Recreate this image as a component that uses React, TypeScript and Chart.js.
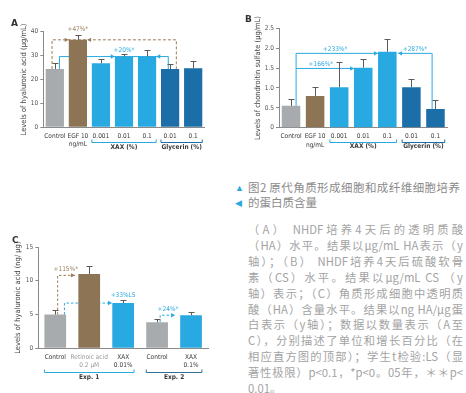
import React, { useEffect, useRef } from "react";
import { Chart, registerables } from "chart.js";
Chart.register(...registerables);

const GRAY = "#a8abad";
const BROWN = "#8c7455";
const LBLUE = "#29a9e1";
const DBLUE = "#1b6ea8";
const NOTE_BROWN = "#9a7d5a";
const ERR = "#5e5a55";
const FONT = "'Liberation Sans Narrow', 'DejaVu Sans Condensed', 'Roboto', sans-serif";
const CJK = "'Noto Sans CJK SC', 'Noto Sans', sans-serif";

// ---------- Panel A ----------
const aLabels = ["Control", ["EGF 10", "ng/mL"], "0.001", "0.01", "0.1", "0.01", "0.1"];
const aValues = [24.4, 36.6, 26.8, 29.6, 29.6, 24.4, 24.7];
const aErrors = [2.4, 2.1, 1.6, 1.0, 2.8, 2.0, 3.1];
const aColors = [GRAY, BROWN, LBLUE, LBLUE, LBLUE, DBLUE, DBLUE];
const aTicks = { max: 40, step: 10 };
const aTitle = "Levels of hyaluronic acid (\u03bcg/mL)";
const aGroups = [
  { from: 2, to: 4, text: "XAX (%)", color: LBLUE },
  { from: 5, to: 6, text: "Glycerin (%)", color: DBLUE },
];
const aLinks = [
  { pts: [[-0.12, aValues[0]], [-0.12, 36.6], [5.27, 36.6], [5.27, aValues[5]]], color: NOTE_BROWN, dash: [3, 2] },
  { pts: [[0.2, aValues[0]], [0.2, 29.6], [4.92, 29.6], [4.92, aValues[5]]], color: LBLUE, dash: [] },
];
const aArrows = [
  { x: 0.6, y: 36.6, dir: 1, color: NOTE_BROWN },
  { x: 1.4, y: 36.6, dir: -1, color: NOTE_BROWN },
  { x: 2.6, y: 29.6, dir: 1, color: LBLUE },
  { x: 4.4, y: 29.6, dir: -1, color: LBLUE },
];
const aNotes = [
  { x: 1, y: 40.8, text: "+47%*", color: NOTE_BROWN },
  { x: 3, y: 32.4, text: "+20%*", color: LBLUE },
];

// ---------- Panel B ----------
const bLabels = ["Control", ["EGF 10", "ng/mL"], "0.001", "0.01", "0.1", "0.01", "0.1"];
const bValues = [0.55, 0.8, 1.02, 1.51, 1.91, 1.02, 0.47];
const bErrors = [0.17, 0.22, 0.62, 0.23, 0.31, 0.2, 0.22];
const bColors = [GRAY, BROWN, LBLUE, LBLUE, LBLUE, DBLUE, DBLUE];
const bTicks = { max: 2.5, step: 0.5 };
const bTitle = "Levels of chondroitin sulfate (\u03bcg/mL)";
const bGroups = [
  { from: 2, to: 4, text: "XAX (%)", color: LBLUE },
  { from: 5, to: 6, text: "Glycerin (%)", color: DBLUE },
];
const bLinks = [
  { pts: [[0.21, bValues[0]], [0.21, 1.87], [3.61, 1.87]], color: LBLUE, dash: [] },
  { pts: [[0.21, 1.49], [2.62, 1.49]], color: LBLUE, dash: [] },
  { pts: [[5.86, bValues[6]], [5.86, 1.87], [4.44, 1.87]], color: LBLUE, dash: [] },
];
const bArrows = [
  { x: 3.61, y: 1.87, dir: 1, color: LBLUE },
  { x: 2.62, y: 1.49, dir: 1, color: LBLUE },
  { x: 4.44, y: 1.87, dir: -1, color: LBLUE },
];
const bNotes = [
  { x: 1.83, y: 1.97, text: "+233%*", color: LBLUE },
  { x: 1.24, y: 1.6, text: "+166%*", color: LBLUE },
  { x: 5.15, y: 1.97, text: "+287%*", color: LBLUE },
];

// ---------- Panel C ----------
const cLabels = ["Control", ["Retinoic acid", "0.2 \u03bcM"], ["XAX", "0.01%"], "Control", ["XAX", "0.1%"]];
const cValues = [5.0, 11.0, 6.7, 3.85, 4.9];
const cErrors = [0.6, 1.2, 0.5, 0.55, 0.5];
const cColors = [GRAY, BROWN, LBLUE, GRAY, LBLUE];
const cTicks = { max: 15, step: 5 };
const cTitle = "Levels of hyaluronic acid (ng/ \u03bcg)";
const cGroups = [
  { from: 0, to: 2, text: "Exp. 1", color: LBLUE },
  { from: 3, to: 4, text: "Exp. 2", color: "#2f6f9a" },
];
const cLinks = [
  { pts: [[0.07, cValues[0]], [0.07, 10.8], [0.58, 10.8]], color: NOTE_BROWN, dash: [2.5, 2] },
  { pts: [[0.27, cValues[0]], [0.27, 6.7], [1.67, 6.7]], color: LBLUE, dash: [2.5, 2] },
  { pts: [[3.09, cValues[3]], [3.09, 4.9], [3.53, 4.9]], color: LBLUE, dash: [2.5, 2] },
];
const cArrows = [
  { x: 0.58, y: 10.8, dir: 1, color: NOTE_BROWN },
  { x: 1.67, y: 6.7, dir: 1, color: LBLUE },
  { x: 3.53, y: 4.9, dir: 1, color: LBLUE },
];
const cNotes = [
  { x: 0.31, y: 11.7, text: "+115%*", color: NOTE_BROWN },
  { x: 2.0, y: 7.9, text: "+33%LS", color: LBLUE },
  { x: 3.32, y: 5.7, text: "+24%*", color: LBLUE },
];

const captionLines = ["图2 原代角质形成细胞和成纤维细胞培养", "的蛋白质含量"];
const paraLines = [
  "（A） NHDF培养4天后的透明质酸",
  "（HA）水平。结果以μg/mL HA表示（y",
  "轴）；（B） NHDF培养4天后硫酸软骨",
  "素（CS）水平。结果以μg/mL CS （y",
  "轴）表示；（C）角质形成细胞中透明质",
  "酸（HA）含量水平。结果以ng HA/μg蛋",
  "白表示（y轴）；数据以数量表示（A至",
  "C），分别描述了单位和增长百分比（在",
  "相应直方图的顶部）；学生t检验:LS（显",
  "著性极限）p<0.1，*p<0。05年，＊＊p<",
  "0.01。",
];

type Spec = {
  labels: any[]; values: number[]; errors: number[]; colors: string[];
  ticks: { max: number; step: number }; title: string; fmt?: (v: number) => string;
  groups: any[]; links: any[]; arrows: any[]; notes: any[];
  w: number; h: number;
  area: { left: number; top: number; right: number; bottom: number };
  titleX: number; barPct: number; groupY: number; groupTextY: number;
  tickColor?: (i: number) => string;
};

function makeOverlay(s: Spec) {
  const px = (chart: any, x: number) => chart.scales.x.getPixelForValue(x);
  const py = (chart: any, y: number) => chart.scales.y.getPixelForValue(y);
  return {
    id: "overlay",
    beforeDatasetsDraw(chart: any) {
      const ctx = chart.ctx;
      ctx.save();
      s.links.forEach((l: any) => {
        ctx.strokeStyle = l.color;
        ctx.lineWidth = 1;
        ctx.setLineDash(l.dash);
        ctx.beginPath();
        l.pts.forEach((p: number[], i: number) => {
          const X = px(chart, p[0]);
          const Y = py(chart, p[1]);
          if (i === 0) ctx.moveTo(X, Y);
          else ctx.lineTo(X, Y);
        });
        ctx.stroke();
      });
      ctx.restore();
    },
    afterDatasetsDraw(chart: any) {
      const ctx = chart.ctx;
      ctx.save();
      const meta = chart.getDatasetMeta(0);
      ctx.strokeStyle = ERR;
      ctx.lineWidth = 1;
      meta.data.forEach((bar: any, i: number) => {
        const x = Math.round(bar.x) + 0.5;
        const t = py(chart, s.values[i]);
        const e = Math.round(py(chart, s.values[i] + s.errors[i])) + 0.5;
        ctx.beginPath();
        ctx.moveTo(x, t);
        ctx.lineTo(x, e);
        ctx.moveTo(x - 3, e);
        ctx.lineTo(x + 3, e);
        ctx.stroke();
      });
      s.arrows.forEach((a: any) => {
        const X = px(chart, a.x);
        const Y = py(chart, a.y);
        ctx.fillStyle = a.color;
        ctx.beginPath();
        ctx.moveTo(X, Y);
        ctx.lineTo(X - a.dir * 4, Y - 2.2);
        ctx.lineTo(X - a.dir * 4, Y + 2.2);
        ctx.closePath();
        ctx.fill();
      });
      ctx.font = `6.5px ${FONT}`;
      ctx.textAlign = "center";
      ctx.textBaseline = "middle";
      s.notes.forEach((n: any) => {
        ctx.fillStyle = n.color;
        ctx.fillText(n.text, px(chart, n.x), py(chart, n.y));
      });
      ctx.restore();
    },
    afterDraw(chart: any) {
      const ctx = chart.ctx;
      const meta = chart.getDatasetMeta(0);
      const bottom = chart.chartArea.bottom;
      ctx.save();
      s.groups.forEach((g: any) => {
        const b0 = meta.data[g.from];
        const b1 = meta.data[g.to];
        const x0 = b0.x - b0.width / 2;
        const x1 = b1.x + b1.width / 2;
        const y = Math.round(bottom + s.groupY) + 0.5;
        ctx.strokeStyle = g.color;
        ctx.lineWidth = 1;
        ctx.beginPath();
        ctx.moveTo(x0, y - 3);
        ctx.lineTo(x0, y);
        ctx.lineTo(x1, y);
        ctx.lineTo(x1, y - 3);
        ctx.stroke();
        ctx.fillStyle = "#3a3a3a";
        ctx.font = `bold 6.5px ${FONT}`;
        ctx.textAlign = "center";
        ctx.textBaseline = "middle";
        ctx.fillText(g.text, (x0 + x1) / 2, bottom + s.groupTextY);
      });
      ctx.restore();
    },
  };
}

function Panel({ spec, left, top }: { spec: Spec; left: number; top: number }) {
  const ref = useRef<HTMLCanvasElement>(null);
  useEffect(() => {
    const s = spec;
    const chart = new Chart(ref.current as HTMLCanvasElement, {
      type: "bar",
      data: {
        labels: s.labels,
        datasets: [{ data: s.values, backgroundColor: s.colors, borderWidth: 0, barPercentage: s.barPct, categoryPercentage: 1 }],
      },
      options: {
        responsive: false,
        animation: false,
        devicePixelRatio: 1,
        layout: { padding: { left: 0, top: s.area.top, right: s.w - s.area.right, bottom: 0 } },
        plugins: { legend: { display: false }, tooltip: { enabled: false } },
        scales: {
          x: {
            offset: true,
            grid: { display: false, drawTicks: false, tickLength: 0 },
            border: { display: true, color: "#8a8a8a", width: 1 },
            afterFit: (sc: any) => { sc.height = s.h - s.area.bottom; },
            ticks: {
              autoSkip: false, maxRotation: 0, minRotation: 0, padding: 5,
              font: { family: FONT, size: 6.5, lineHeight: 1.25 },
              color: (c: any) => (s.tickColor ? s.tickColor(c.index) : "#3a3a3a"),
            },
          },
          y: {
            min: 0, max: s.ticks.max,
            grid: { display: true, drawOnChartArea: false, drawTicks: true, tickLength: 3, color: "#8a8a8a" },
            border: { display: true, color: "#8a8a8a", width: 1 },
            afterFit: (sc: any) => { sc.width = s.area.left; },
            ticks: {
              stepSize: s.ticks.step, padding: 2,
              font: { family: FONT, size: 6.5 }, color: "#555",
              callback: (v: any) => (s.fmt ? s.fmt(Number(v)) : String(v)),
            },
            title: {
              display: true, text: s.title, color: "#444",
              font: { family: FONT, size: 7.5, lineHeight: 1.2 },
              padding: { top: s.titleX - 4.5, bottom: 0 },
            },
          },
        },
      },
      plugins: [makeOverlay(s)],
    } as any);
    return () => chart.destroy();
  }, [spec]);
  return (
    <canvas ref={ref} width={spec.w} height={spec.h}
      style={{ position: "absolute", left, top, width: spec.w, height: spec.h }} />
  );
}

const specA: Spec = {
  labels: aLabels, values: aValues, errors: aErrors, colors: aColors, ticks: aTicks, title: aTitle,
  groups: aGroups, links: aLinks, arrows: aArrows, notes: aNotes,
  w: 233, h: 165, area: { left: 43.3, top: 31.7, right: 204.7, bottom: 127.3 },
  titleX: 24, barPct: 0.79, groupY: 14.7, groupTextY: 20,
};
const specB: Spec = {
  labels: bLabels, values: bValues, errors: bErrors, colors: bColors, ticks: bTicks, title: bTitle,
  fmt: (v) => (v === 0 ? "0" : v.toFixed(1)),
  groups: bGroups, links: bLinks, arrows: bArrows, notes: bNotes,
  w: 233, h: 165, area: { left: 46, top: 28.3, right: 214.5, bottom: 127.7 },
  titleX: 25, barPct: 0.77, groupY: 14, groupTextY: 19,
};
const specC: Spec = {
  labels: cLabels, values: cValues, errors: cErrors, colors: cColors, ticks: cTicks, title: cTitle,
  groups: cGroups, links: cLinks, arrows: cArrows, notes: cNotes,
  w: 233, h: 213, area: { left: 38.3, top: 67, right: 208, bottom: 168.3 },
  titleX: 18, barPct: 0.64, groupY: 23.4, groupTextY: 29,
  tickColor: (i) => (i === 1 ? "#9a9a9a" : "#3a3a3a"),
};

export default function App() {
  const letter = { position: "absolute" as const, fontFamily: "'DejaVu Sans', sans-serif", fontWeight: 700, fontSize: 9, color: "#333", lineHeight: "10px" };
  return (
    <div style={{ position: "absolute", left: 0, top: 0, width: 466, height: 393, background: "#fff", overflow: "hidden" }}>
      <Panel spec={specA} left={0} top={0} />
      <Panel spec={specB} left={233} top={0} />
      <Panel spec={specC} left={0} top={180} />
      <div style={{ ...letter, left: 11, top: 18 }}>A</div>
      <div style={{ ...letter, left: 245, top: 14 }}>B</div>
      <div style={{ ...letter, left: 12, top: 235 }}>C</div>
      <div style={{ position: "absolute", left: 235, top: 183, fontSize: 9, color: LBLUE, lineHeight: "10px" }}>{"\u25b2"}</div>
      <div style={{ position: "absolute", left: 235, top: 198, fontSize: 9, color: LBLUE, lineHeight: "10px" }}>{"\u25c0"}</div>
      <div style={{ position: "absolute", left: 248, top: 180, width: 212, fontFamily: CJK, fontSize: 11.5, lineHeight: "15px", color: "#8a8a8a" }}>
        <div style={{ textAlign: "justify", textAlignLast: "justify", whiteSpace: "nowrap" }}>{captionLines[0]}</div>
        <div style={{ whiteSpace: "nowrap" }}>{captionLines[1]}</div>
      </div>
      <div style={{ position: "absolute", left: 248, top: 222, width: 215, fontFamily: CJK, fontSize: 11.3, lineHeight: "15.9px", color: "#a3a3a3" }}>
        {paraLines.map((t, i) => (
          <div key={i} style={{ whiteSpace: "nowrap", textAlign: i === paraLines.length - 1 ? "left" : "justify", textAlignLast: i === paraLines.length - 1 ? "left" : "justify" }}>{t}</div>
        ))}
      </div>
    </div>
  );
}
